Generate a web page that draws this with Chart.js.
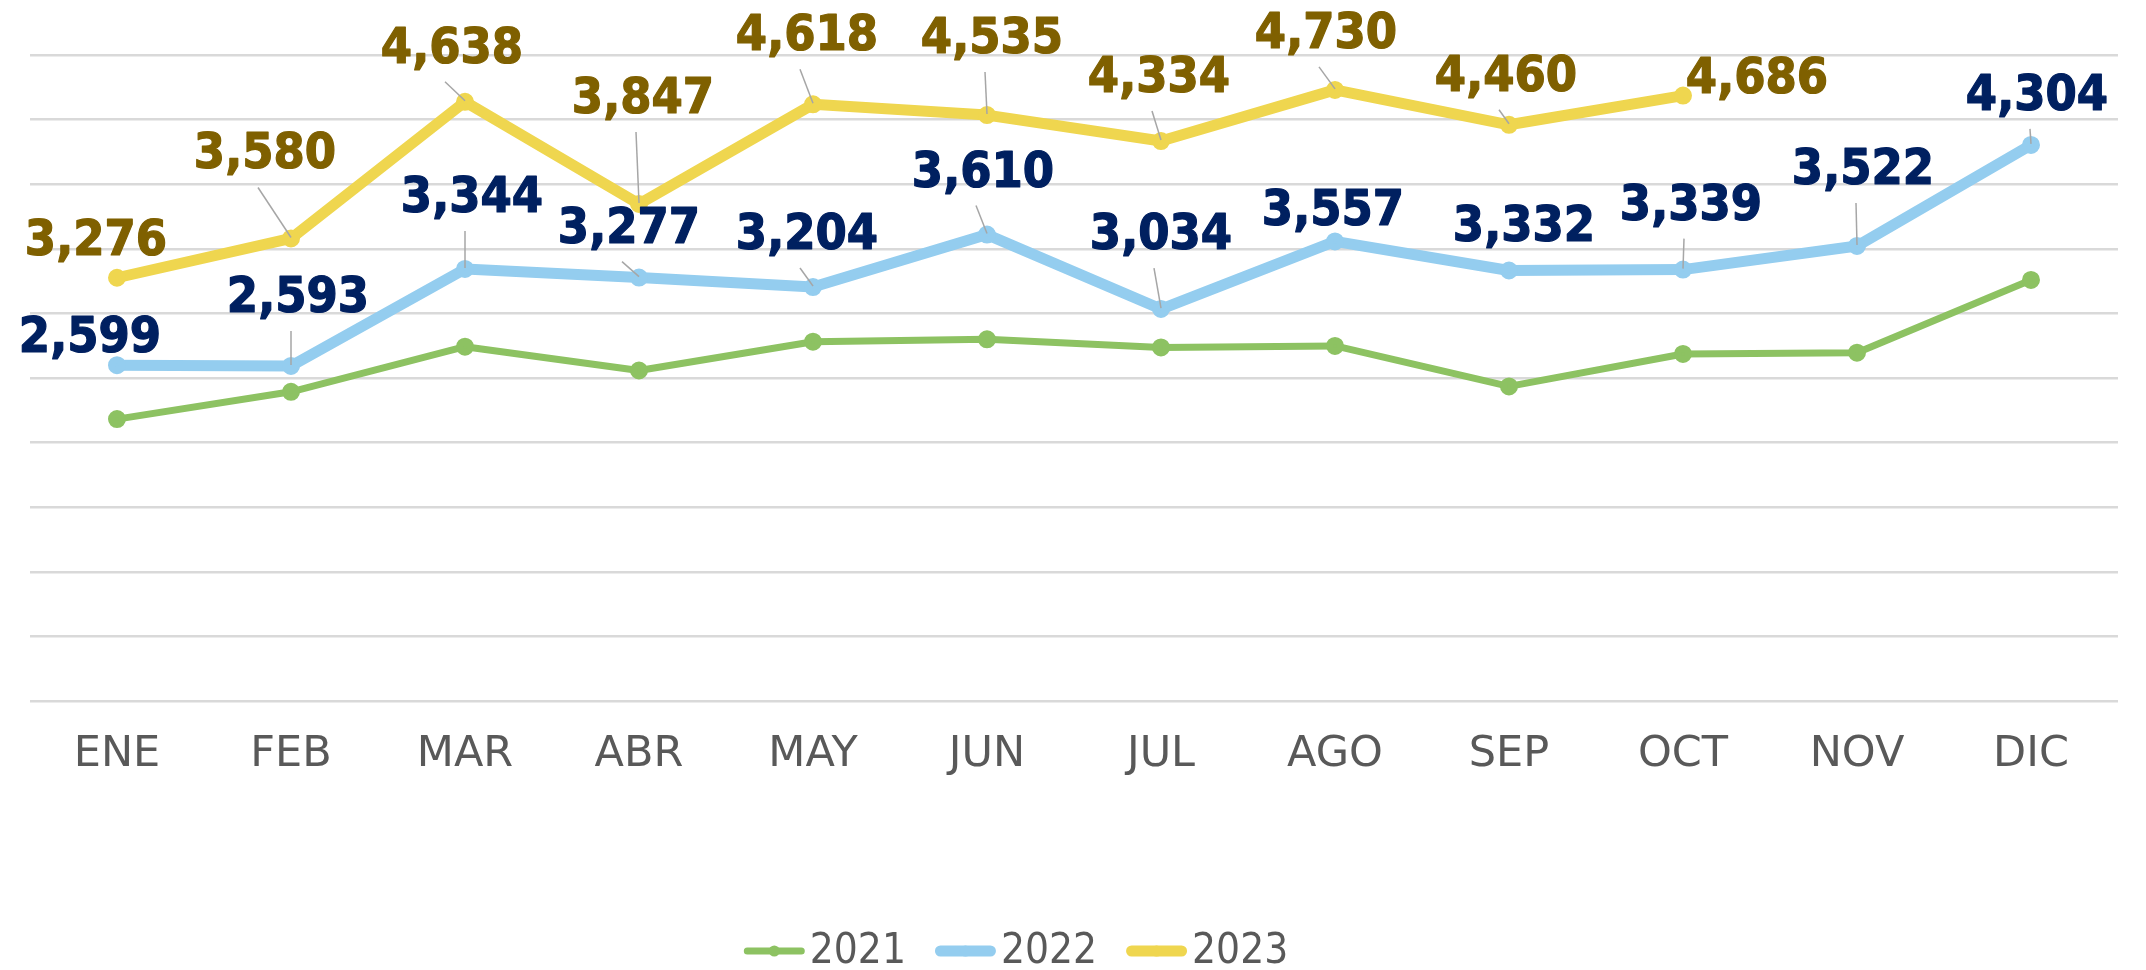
<!DOCTYPE html>
<html>
<head>
<meta charset="utf-8">
<script src="https://cdn.jsdelivr.net/npm/chart.js@4.4.0/dist/chart.umd.min.js"></script>
<style>
  html, body { margin: 0; padding: 0; background: #fff; }
  #wrap { width: 2146px; height: 970px; }
</style>
</head>
<body>
<div id="wrap"><canvas id="chart"></canvas></div>
<script>
const months = ['ENE', 'FEB', 'MAR', 'ABR', 'MAY', 'JUN', 'JUL', 'AGO', 'SEP', 'OCT', 'NOV', 'DIC'];
const ventas2021 = [2182, 2393, 2742, 2558, 2781, 2799, 2737, 2748, 2435, 2686, 2696, 3259];
const ventas2022 = [2599, 2593, 3344, 3277, 3204, 3610, 3034, 3557, 3332, 3339, 3522, 4304];
const ventas2023 = [3276, 3580, 4638, 3847, 4618, 4535, 4334, 4730, 4460, 4686, null, null];
const yMin = 0, yMax = 5000, yStep = 500;

// where each value label sits, relative to its point (px)
const shift2022 = [[-27, -31], [7, -72], [7, -75], [-10, -53], [-6, -56], [-4, -66],
                   [0, -78], [-2, -34], [15, -48], [8, -68], [6, -80], [6, -53]];
const shift2023 = [[-21, -41], [-26, -88], [-13, -57], [4, -109], [-6, -72], [5, -80],
                   [-2, -67], [-9, -60], [-3, -52], [74, -21]];

const condensed = '"DejaVu Sans Condensed", "DejaVu Sans", sans-serif';
const labelFont = 'bold 50px ' + condensed;
const fmt = v => v.toLocaleString('en-US');

// value labels + leader lines
const valueLabels = {
  id: 'valueLabels',
  afterDatasetsDraw(chart) {
    const ctx = chart.ctx;
    chart.data.datasets.forEach((ds, di) => {
      if (!ds.labelShift) return;
      const meta = chart.getDatasetMeta(di);
      meta.data.forEach((pt, i) => {
        const v = ds.data[i];
        if (v == null || !ds.labelShift[i]) return;
        const [dx, dy] = ds.labelShift[i];
        const cx = pt.x + dx, cy = pt.y + dy;
        const sx = cx - 7, sy = cy + 37;
        ctx.save();
        if (pt.y - sy > 13) {
          ctx.strokeStyle = '#A6A6A6';
          ctx.lineWidth = 1.5;
          ctx.beginPath();
          ctx.moveTo(sx, sy);
          ctx.lineTo(pt.x, pt.y - 1);
          ctx.stroke();
        }
        ctx.font = labelFont;
        ctx.fillStyle = ds.labelColor;
        ctx.strokeStyle = ds.labelColor;
        ctx.lineWidth = 1.2;
        ctx.lineJoin = 'round';
        ctx.textAlign = 'center';
        ctx.textBaseline = 'alphabetic';
        ctx.fillText(fmt(v), cx, cy + 18);
        ctx.strokeText(fmt(v), cx, cy + 18);
        ctx.restore();
      });
    });
  }
};

// legend row: line with dot, then year, tight like the original
const lineLegend = {
  id: 'lineLegend',
  afterDraw(chart) {
    const ctx = chart.ctx;
    const y = 951, lineLen = 61, gap = 5, itemGap = 29;
    ctx.save();
    ctx.font = '42px ' + condensed;
    const items = chart.data.datasets.map(ds => ({ ds, w: ctx.measureText(ds.label).width }));
    const total = items.reduce((a, it) => a + lineLen + gap + it.w, 0) + itemGap * (items.length - 1);
    let x = chart.width / 2 - 57 - total / 2;
    items.forEach(({ ds, w }) => {
      ctx.strokeStyle = ds.borderColor;
      ctx.lineWidth = ds.borderWidth;
      ctx.lineCap = 'round';
      const r = ds.borderWidth / 2;
      ctx.beginPath();
      ctx.moveTo(x + r, y);
      ctx.lineTo(x + lineLen - r, y);
      ctx.stroke();
      ctx.fillStyle = ds.borderColor;
      ctx.beginPath();
      ctx.arc(x + lineLen / 2, y, 5.5, 0, Math.PI * 2);
      ctx.fill();
      ctx.fillStyle = '#595959';
      ctx.textAlign = 'left';
      ctx.textBaseline = 'middle';
      ctx.fillText(ds.label, x + lineLen + gap, y + 1);
      x += lineLen + gap + w + itemGap;
    });
    ctx.restore();
  }
};

new Chart(document.getElementById('chart'), {
  type: 'line',
  data: {
    labels: months,
    datasets: [
      {
        label: '2021', data: ventas2021,
        borderColor: '#8DC262', backgroundColor: '#8DC262',
        borderWidth: 7, pointRadius: 5.5, pointHoverRadius: 5.5,
        borderCapStyle: 'round', borderJoinStyle: 'round'
      },
      {
        label: '2022', data: ventas2022,
        borderColor: '#94CDEF', backgroundColor: '#94CDEF',
        borderWidth: 11, pointRadius: 3.5, pointHoverRadius: 3.5,
        borderCapStyle: 'round', borderJoinStyle: 'round',
        labelShift: shift2022, labelColor: '#002060'
      },
      {
        label: '2023', data: ventas2023,
        borderColor: '#EFD64F', backgroundColor: '#EFD64F',
        borderWidth: 11, pointRadius: 3.5, pointHoverRadius: 3.5,
        borderCapStyle: 'round', borderJoinStyle: 'round',
        labelShift: shift2023, labelColor: '#7F6000'
      }
    ]
  },
  options: {
    responsive: true,
    maintainAspectRatio: false,
    animation: false,
    layout: { padding: { top: 55, left: 30, right: 28, bottom: 0 } },
    scales: {
      x: {
        offset: true,
        grid: { display: false, drawTicks: false },
        border: { display: false },
        ticks: { color: '#595959', font: { family: '"DejaVu Sans", sans-serif', size: 43 }, padding: 28 },
        afterFit: s => { s.height = 269; }
      },
      y: {
        min: yMin, max: yMax,
        ticks: { display: false, stepSize: yStep },
        grid: { color: '#D9D9D9', lineWidth: 2.5, drawTicks: false },
        border: { display: false },
        afterFit: s => { s.width = 0; }
      }
    },
    plugins: {
      legend: { display: false },
      tooltip: { enabled: false }
    }
  },
  plugins: [valueLabels, lineLegend]
});
</script>
</body>
</html>
